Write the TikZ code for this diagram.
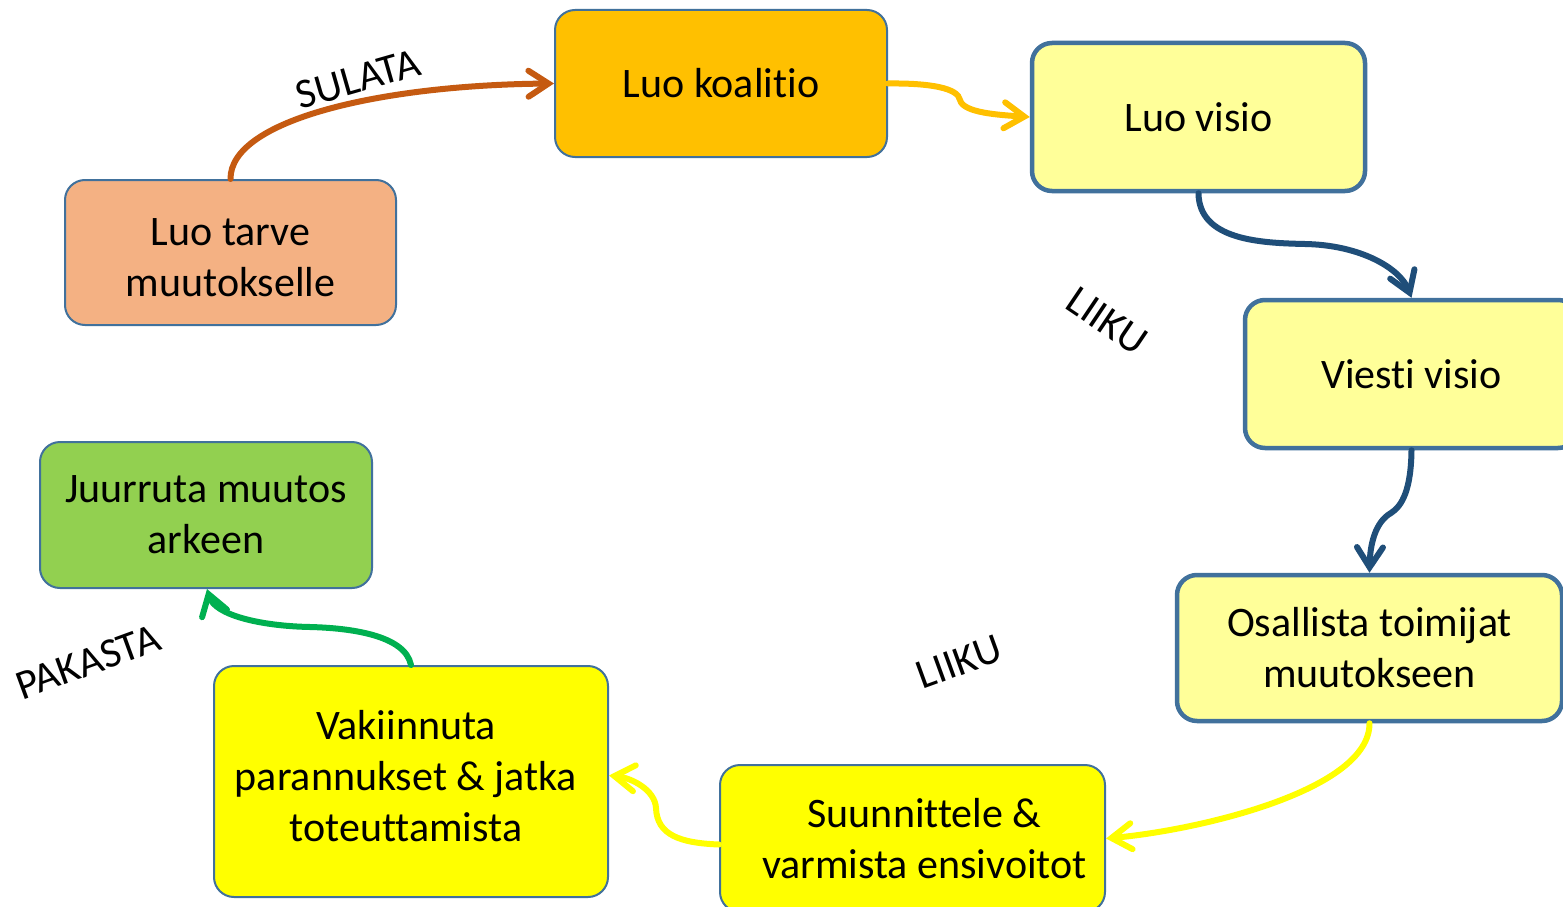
\documentclass[tikz,border=0pt]{standalone}
\usepackage{fontspec}
\setmainfont{Carlito}[Ligatures={NoCommon,NoContextual},RawFeature={-liga;-clig;-calt;-dlig}]
\usetikzlibrary{arrows.meta}
\newcommand\tiX{t\kern0pt i}
\definecolor{salmon}{HTML}{F4B183}
\definecolor{gold}{HTML}{FFC000}
\definecolor{paleyel}{HTML}{FFFF99}
\definecolor{yel}{HTML}{FFFF00}
\definecolor{grn}{HTML}{92D050}
\definecolor{edge}{HTML}{41719C}
\definecolor{rust}{HTML}{C55A11}
\definecolor{navy}{HTML}{1F4E79}
\definecolor{arrgreen}{HTML}{00B050}
\tikzset{
  box/.style={draw=edge, line width=2pt, rounded corners=20pt, align=center,
    inner sep=0pt, font=\fontsize{42}{51}\selectfont},
  thickbox/.style={box, line width=4.5pt},
  txt/.style={align=center, inner sep=0pt, font=\fontsize{42}{51}\selectfont},
  conn/.style={line width=6pt, line cap=round,
    -{Straight Barb[length=20pt,width=26pt,line cap=round]}},
  lbl/.style={font=\fontsize{42}{46}\selectfont, inner sep=0pt}
}
\begin{document}
\begin{tikzpicture}[x=1pt,y=-1pt]
\useasboundingbox (0,0) rectangle (1563,907);
\fill[white] (0,0) rectangle (1563,907);
\node[box, fill=salmon, minimum width=331pt, minimum height=145pt] (tarve) at (230.5,252.5) {};
\node[txt] (tarvet) at ([yshift=-5pt]tarve.center) {Luo tarve\\muutokselle};
\node[box, fill=gold, minimum width=332pt, minimum height=147pt] (koal) at (721,83.5) {Luo koali\tiX o};
\node[thickbox, fill=paleyel, minimum width=333pt, minimum height=148pt] (visio) at (1198.5,117) {Luo visio};
\node[thickbox, fill=paleyel, minimum width=333pt, minimum height=148pt] (viesti) at (1411.5,374) {Vies\tiX\ visio};
\node[thickbox, fill=paleyel, minimum width=385pt, minimum height=146pt] (osal) at (1369.5,648) {Osallista toimijat\\muutokseen};
\node[box, fill=yel, minimum width=385pt, minimum height=147pt] (suun) at (912.5,838.5) {};
\node[txt] (suunt) at ([xshift=12pt]suun.center) {Suunnittele \&\\varmista ensivoitot};
\node[box, fill=yel, minimum width=394pt, minimum height=231pt] (vak) at (411,781.5) {};
\node[txt] (vakt) at ([xshift=-5pt,yshift=5pt]vak.center) {Vakiinnuta\\parannukset \& jatka\\toteuttamista};
\node[box, fill=grn, minimum width=332pt, minimum height=146pt] (jur) at (206,515) {Juurruta muutos\\arkeen};

\draw[conn, rust] (tarve.north) .. controls (230,120) and (380,85) .. (koal.west);
\draw[conn, gold] (koal.east) .. controls (930,83) and (958,88) .. (960,100) .. controls (963,113) and (1000,115) .. (visio.west);
\draw[conn, navy] (visio.south) .. controls (1199,240) and (1260,243) .. (1305,244) .. controls (1360,245) and (1400,268) .. (viesti.north);
\draw[conn, navy] (viesti.south) .. controls (1411,490) and (1402,506) .. (1391,513) .. controls (1375,522) and (1370,545) .. (osal.north);
\draw[conn, yel] (osal.south) .. controls (1370,790) and (1200,830) .. (suun.east);
\draw[conn, yel] ([yshift=-6pt]suun.west) .. controls (680,843) and (657,835) .. (656,808) .. controls (655,790) and (632,778) .. ([yshift=6pt]vak.east);
\draw[conn, arrgreen] (vak.north) .. controls (405,635) and (350,628) .. (310,627) .. controls (260,626) and (215,615) .. ([xshift=1pt]jur.south);

\node[lbl, rotate=16] (sulata) at (358,79) {SULATA};
\node[lbl, rotate=-34] (liiku1) at (1107,321) {LIIKU};
\node[lbl, rotate=20] (liiku2) at (959,662) {LIIKU};
\node[lbl, rotate=20] (pakasta) at (88,662) {PAKASTA};
\end{tikzpicture}
\end{document}
